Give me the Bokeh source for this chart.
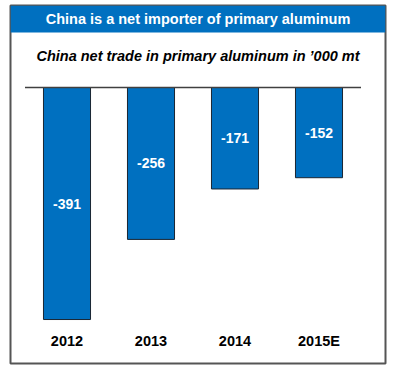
from bokeh.plotting import figure
from bokeh.models import Range1d, BoxAnnotation, Label, ColumnDataSource
from bokeh.core.properties import value
from bokeh.embed import file_html
from bokeh.resources import INLINE

years = ["2012", "2013", "2014", "2015E"]
net_trade = [-391, -256, -171, -152]
labels = [str(v) for v in net_trade]
title_text = "China is a net importer of primary aluminum"
subtitle_text = "China net trade in primary aluminum in \u2019000 mt"

BLUE = "#0070C0"
FONT = "Liberation Sans"

idx = list(range(len(years)))
src = ColumnDataSource(dict(x=idx, yr=years, v=net_trade,
                            mid=[v / 2 for v in net_trade], lab=labels,
                            yl=[-428] * len(years)))

p = figure(width=387, height=365, output_backend="svg", toolbar_location=None,
           x_range=Range1d(-0.6726, 3.7917), y_range=Range1d(-465.1, 138.2),
           x_axis_location=None, y_axis_location=None,
           min_border_left=10, min_border_right=2, min_border_top=5, min_border_bottom=2)
p.outline_line_color = "#555555"
p.outline_line_width = 2
p.background_fill_color = "white"
p.border_fill_color = "white"
p.grid.visible = False

# title bar
p.add_layout(BoxAnnotation(bottom=92.7, fill_color=BLUE, fill_alpha=1, line_color=None))
p.add_layout(Label(x=1.5595, y=115.4, text=title_text,
                   text_color="white", text_font=FONT, text_font_style="bold",
                   text_font_size="14.5px", text_align="center", text_baseline="middle"))
p.add_layout(Label(x=1.5595, y=53.9, text=subtitle_text,
                   text_color="black", text_font=FONT, text_font_style="bold italic",
                   text_font_size="14.5px", text_align="center", text_baseline="middle"))

p.vbar(x="x", top=0, bottom="v", width=0.56, source=src,
       fill_color=BLUE, line_color="#1a2633", line_width=1)
p.segment(x0=-0.5, y0=0, x1=len(years) - 0.5, y1=0, line_color="#404040", line_width=1.5)
p.text(x="x", y="mid", text="lab", source=src, text_color="white",
       text_font=value(FONT), text_font_style="bold", text_font_size="14px",
       text_align="center", text_baseline="middle")
p.text(x="x", y="yl", text="yr", source=src, text_color="black",
       text_font=value(FONT), text_font_style="bold", text_font_size="14.5px",
       text_align="center", text_baseline="middle")

open("out.html", "w").write(file_html(p, INLINE))
